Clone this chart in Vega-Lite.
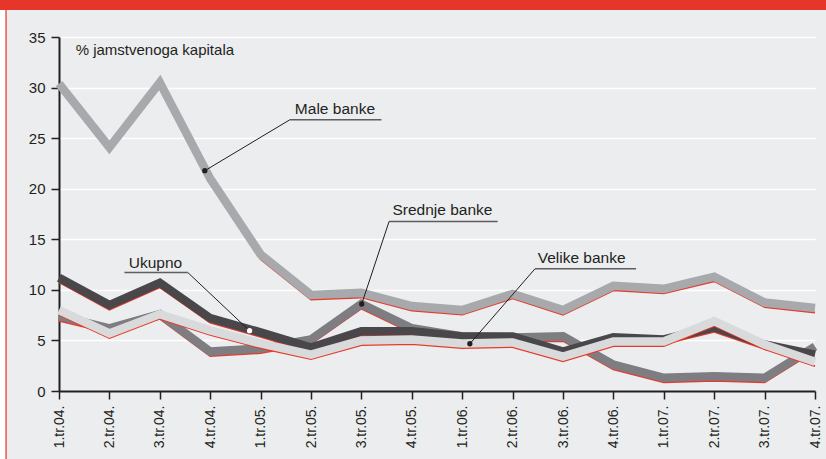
{
  "$schema": "https://vega.github.io/schema/vega-lite/v6.json",
  "width": 756,
  "height": 354,
  "autosize": {"type": "none"},
  "padding": {"left": 59, "top": 37, "right": 11, "bottom": 68},
  "background": "#ECEDEF",
  "config": {"view": {"stroke": null}, "font": "Liberation Sans"},
  "datasets": {
    "series": [
      {"t":0,"s":"Male banke","v":30.4},{"t":1,"s":"Male banke","v":24.1},{"t":2,"s":"Male banke","v":30.5},{"t":3,"s":"Male banke","v":21.0},
      {"t":4,"s":"Male banke","v":13.5},{"t":5,"s":"Male banke","v":9.5},{"t":6,"s":"Male banke","v":9.7},{"t":7,"s":"Male banke","v":8.4},
      {"t":8,"s":"Male banke","v":8.0},{"t":9,"s":"Male banke","v":9.6},{"t":10,"s":"Male banke","v":8.0},{"t":11,"s":"Male banke","v":10.4},
      {"t":12,"s":"Male banke","v":10.1},{"t":13,"s":"Male banke","v":11.3},{"t":14,"s":"Male banke","v":8.75},{"t":15,"s":"Male banke","v":8.2},
      {"t":0,"s":"Srednje banke","v":7.4},{"t":1,"s":"Srednje banke","v":6.2},{"t":2,"s":"Srednje banke","v":7.6},{"t":3,"s":"Srednje banke","v":3.9},
      {"t":4,"s":"Srednje banke","v":4.2},{"t":5,"s":"Srednje banke","v":5.1},{"t":6,"s":"Srednje banke","v":8.6},{"t":7,"s":"Srednje banke","v":6.2},
      {"t":8,"s":"Srednje banke","v":5.4},{"t":9,"s":"Srednje banke","v":5.3},{"t":10,"s":"Srednje banke","v":5.4},{"t":11,"s":"Srednje banke","v":2.6},
      {"t":12,"s":"Srednje banke","v":1.3},{"t":13,"s":"Srednje banke","v":1.45},{"t":14,"s":"Srednje banke","v":1.3},{"t":15,"s":"Srednje banke","v":4.4},
      {"t":0,"s":"Velike banke","v":8.0},{"t":1,"s":"Velike banke","v":5.7},{"t":2,"s":"Velike banke","v":7.6},{"t":3,"s":"Velike banke","v":6.0},
      {"t":4,"s":"Velike banke","v":4.7},{"t":5,"s":"Velike banke","v":3.6},{"t":6,"s":"Velike banke","v":5.0},{"t":7,"s":"Velike banke","v":5.1},
      {"t":8,"s":"Velike banke","v":4.7},{"t":9,"s":"Velike banke","v":4.8},{"t":10,"s":"Velike banke","v":3.4},{"t":11,"s":"Velike banke","v":4.9},
      {"t":12,"s":"Velike banke","v":4.9},{"t":13,"s":"Velike banke","v":6.9},{"t":14,"s":"Velike banke","v":4.6},{"t":15,"s":"Velike banke","v":2.9},
      {"t":0,"s":"Ukupno","v":11.2},{"t":1,"s":"Ukupno","v":8.5},{"t":2,"s":"Ukupno","v":10.7},{"t":3,"s":"Ukupno","v":7.2},
      {"t":4,"s":"Ukupno","v":5.8},{"t":5,"s":"Ukupno","v":4.3},{"t":6,"s":"Ukupno","v":5.9},{"t":7,"s":"Ukupno","v":5.9},
      {"t":8,"s":"Ukupno","v":5.4},{"t":9,"s":"Ukupno","v":5.4},{"t":10,"s":"Ukupno","v":3.9},{"t":11,"s":"Ukupno","v":5.3},
      {"t":12,"s":"Ukupno","v":5.1},{"t":13,"s":"Ukupno","v":6.3},{"t":14,"s":"Ukupno","v":4.6},{"t":15,"s":"Ukupno","v":3.6}
    ],
    "notes": [
      {"label":"Male banke","tx":4.68,"ty":27.4,"u1":4.578,"u2":6.398,"uv":26.81,"lx":4.578,"dx":2.893,"dv":21.78},
      {"label":"Ukupno","tx":1.383,"ty":12.21,"u1":1.298,"u2":2.555,"uv":11.72,"lx":2.555,"dx":3.781,"dv":5.96},
      {"label":"Srednje banke","tx":6.616,"ty":17.42,"u1":6.549,"u2":8.703,"uv":16.76,"lx":6.549,"dx":6.006,"dv":8.6},
      {"label":"Velike banke","tx":9.497,"ty":12.65,"u1":9.444,"u2":11.45,"uv":12.08,"lx":9.444,"dx":8.152,"dv":4.67}
    ],
    "frame": [{"name": "frame"}]
  },
  "layer": [
    {
      "data": {"name": "series"},
      "transform": [{"filter": "datum.s === 'Srednje banke'"}],
      "mark": {"type": "line", "color": "#E8392A", "strokeWidth": 2, "yOffset": 4.5},
      "encoding": {
        "x": {"field": "t", "type": "quantitative", "scale": {"domain": [0, 15], "nice": false, "zero": false},
          "axis": {"title": null, "values": [0,1,2,3,4,5,6,7,8,9,10,11,12,13,14,15], "grid": false,
            "labelExpr": "['1.tr.04.','2.tr.04.','3.tr.04.','4.tr.04.','1.tr.05.','2.tr.05.','3.tr.05.','4.tr.05.','1.tr.06.','2.tr.06.','3.tr.06.','4.tr.06.','1.tr.07.','2.tr.07.','3.tr.07.','4.tr.07.'][datum.value]",
            "labelAngle": 270, "labelAlign": "right", "labelBaseline": "middle", "labelPadding": 6, "labelFontSize": 14, "labelColor": "#231F20",
            "tickSize": 8, "tickColor": "#231F20", "tickWidth": 1.5, "domainColor": "#231F20", "domainWidth": 2, "labelFont": "Liberation Sans"}},
        "y": {"field": "v", "type": "quantitative", "scale": {"domain": [0, 35], "nice": false},
          "axis": {"title": null, "values": [0,5,10,15,20,25,30,35], "grid": true, "gridColor": "#FFFFFF", "gridWidth": 1.5, "gridOpacity": 1,
            "labelFontSize": 15, "labelColor": "#231F20", "labelPadding": 6, "tickSize": 8, "tickColor": "#231F20", "tickWidth": 1.5,
            "domainColor": "#231F20", "domainWidth": 2, "labelFont": "Liberation Sans"}}
      }
    },
    {
      "data": {"name": "series"},
      "transform": [{"filter": "datum.s === 'Srednje banke'"}],
      "mark": {"type": "line", "color": "#7E7D81", "strokeWidth": 8.5, "strokeJoin": "miter"},
      "encoding": {"x": {"field": "t", "type": "quantitative"}, "y": {"field": "v", "type": "quantitative"}}
    },
    {
      "data": {"name": "series"},
      "transform": [{"filter": "datum.s === 'Ukupno'"}],
      "mark": {"type": "line", "color": "#E8392A", "strokeWidth": 2, "yOffset": 4.5},
      "encoding": {"x": {"field": "t", "type": "quantitative"}, "y": {"field": "v", "type": "quantitative"}}
    },
    {
      "data": {"name": "series"},
      "transform": [{"filter": "datum.s === 'Ukupno'"}],
      "mark": {"type": "line", "color": "#4A474A", "strokeWidth": 8.5, "strokeJoin": "miter"},
      "encoding": {"x": {"field": "t", "type": "quantitative"}, "y": {"field": "v", "type": "quantitative"}}
    },
    {
      "data": {"name": "series"},
      "transform": [{"filter": "datum.s === 'Velike banke'"}],
      "mark": {"type": "line", "color": "#E8392A", "strokeWidth": 2, "yOffset": 4.5},
      "encoding": {"x": {"field": "t", "type": "quantitative"}, "y": {"field": "v", "type": "quantitative"}}
    },
    {
      "data": {"name": "series"},
      "transform": [{"filter": "datum.s === 'Velike banke'"}],
      "mark": {"type": "line", "color": "#D9DADB", "strokeWidth": 8.5, "strokeJoin": "miter"},
      "encoding": {"x": {"field": "t", "type": "quantitative"}, "y": {"field": "v", "type": "quantitative"}}
    },
    {
      "data": {"name": "series"},
      "transform": [{"filter": "datum.s === 'Male banke'"}],
      "mark": {"type": "line", "color": "#E8392A", "strokeWidth": 2, "yOffset": 4.5},
      "encoding": {"x": {"field": "t", "type": "quantitative"}, "y": {"field": "v", "type": "quantitative"}}
    },
    {
      "data": {"name": "series"},
      "transform": [{"filter": "datum.s === 'Male banke'"}],
      "mark": {"type": "line", "color": "#A8A9AC", "strokeWidth": 8.5, "strokeJoin": "miter"},
      "encoding": {"x": {"field": "t", "type": "quantitative"}, "y": {"field": "v", "type": "quantitative"}}
    },
    {
      "data": {"name": "notes"},
      "mark": {"type": "rule", "color": "#5E5E60", "strokeWidth": 1.5},
      "encoding": {"x": {"field": "u1", "type": "quantitative"}, "x2": {"field": "u2"}, "y": {"field": "uv", "type": "quantitative"}}
    },
    {
      "data": {"name": "notes"},
      "mark": {"type": "rule", "color": "#231F20", "strokeWidth": 1},
      "encoding": {"x": {"field": "lx", "type": "quantitative"}, "x2": {"field": "dx"}, "y": {"field": "uv", "type": "quantitative"}, "y2": {"field": "dv"}}
    },
    {
      "data": {"name": "notes"},
      "mark": {"type": "point", "filled": true, "size": 28, "opacity": 1, "strokeWidth": 0},
      "encoding": {
        "x": {"field": "dx", "type": "quantitative"},
        "y": {"field": "dv", "type": "quantitative"},
        "color": {"field": "label", "type": "nominal", "legend": null,
          "scale": {"domain": ["Male banke", "Ukupno", "Srednje banke", "Velike banke"], "range": ["#231F20", "#FFFFFF", "#231F20", "#231F20"]}}
      }
    },
    {
      "data": {"name": "notes"},
      "mark": {"type": "text", "align": "left", "baseline": "alphabetic", "fontSize": 15.5, "color": "#231F20", "font": "Liberation Sans"},
      "encoding": {"x": {"field": "tx", "type": "quantitative"}, "y": {"field": "ty", "type": "quantitative"}, "text": {"field": "label"}}
    },
    {
      "data": {"name": "frame"},
      "mark": {"type": "text", "align": "left", "baseline": "alphabetic", "fontSize": 15, "color": "#231F20", "font": "Liberation Sans"},
      "encoding": {"x": {"datum": 0.33, "type": "quantitative"}, "y": {"datum": 33.23, "type": "quantitative"}, "text": {"value": "% jamstvenoga kapitala"}}
    },
    {
      "data": {"name": "frame"},
      "mark": {"type": "rect", "color": "#E6362A", "clip": false},
      "encoding": {"x": {"datum": -1.3, "type": "quantitative"}, "x2": {"datum": 15.5}, "y": {"datum": 37.68, "type": "quantitative"}, "y2": {"datum": 39.5}}
    },
    {
      "data": {"name": "frame"},
      "mark": {"type": "rect", "color": "#FFFFFF", "clip": false},
      "encoding": {"x": {"datum": -1.3, "type": "quantitative"}, "x2": {"datum": -1.065}, "y": {"datum": -7, "type": "quantitative"}, "y2": {"datum": 37.68}}
    },
    {
      "data": {"name": "frame"},
      "mark": {"type": "rule", "color": "#EE5A4C", "strokeWidth": 1.5, "clip": false},
      "encoding": {"x": {"datum": -1.05, "type": "quantitative"}, "y": {"datum": -7, "type": "quantitative"}, "y2": {"datum": 37.68}}
    }
  ]
}
